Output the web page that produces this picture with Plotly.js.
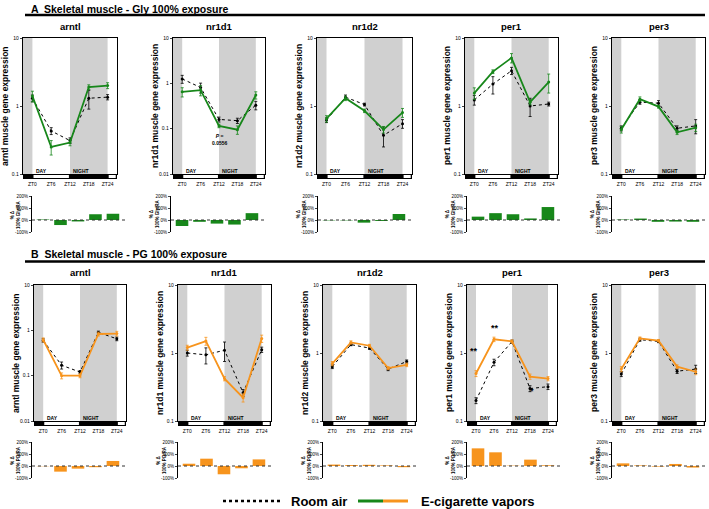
<!DOCTYPE html>
<html><head><meta charset="utf-8">
<script src="https://cdn.plot.ly/plotly-3.0.1.min.js"></script>
<style>body{margin:0;padding:0;background:#fff}#chart{width:709px;height:509px}</style>
</head><body><div id="chart"></div>
<script>
const W = 709, H = 509;
const ZT = [0, 6, 12, 18, 24];
const ztLabels = ['ZT0', 'ZT6', 'ZT12', 'ZT18', 'ZT24'];
const barIdx = [0, 1, 2, 3, 4];
const genes = ['arntl', 'nr1d1', 'nr1d2', 'per1', 'per3'];

// ---- A: Gly 100% exposure (room air vs e-cig vapors) ----
const glyArntlAir = [1.3, 0.43, 0.31, 1.3, 1.35];
const glyArntlAirErr = [0.15, 0.05, 0.03, 0.4, 0.12];
const glyArntlVap = [1.4, 0.25, 0.29, 1.9, 2.0];
const glyArntlVapErr = [0.25, 0.06, 0.03, 0.15, 0.2];
const glyArntlPct = [4, -42, -12, 48, 52];

const glyNr1d1Air = [1.25, 0.81, 0.16, 0.15, 0.33];
const glyNr1d1AirErr = [0.25, 0.2, 0.02, 0.02, 0.07];
const glyNr1d1Vap = [0.65, 0.71, 0.115, 0.095, 0.55];
const glyNr1d1VapErr = [0.15, 0.18, 0.01, 0.02, 0.1];
const glyNr1d1Pct = [-50, -15, -30, -38, 57];

const glyNr1d2Air = [0.62, 1.35, 1.05, 0.37, 0.55];
const glyNr1d2AirErr = [0.05, 0.1, 0.05, 0.12, 0.08];
const glyNr1d2Vap = [0.65, 1.3, 0.85, 0.45, 0.8];
const glyNr1d2VapErr = [0.07, 0.1, 0.05, 0.05, 0.12];
const glyNr1d2Pct = [-3, -3, -22, -8, 50];

const glyPer1Air = [1.23, 2.1, 3.3, 1.0, 1.07];
const glyPer1AirErr = [0.2, 0.6, 0.4, 0.3, 0.07];
const glyPer1Vap = [1.55, 3.2, 5.1, 1.14, 2.25];
const glyPer1VapErr = [0.3, 0.2, 0.8, 0.1, 0.7];
const glyPer1Pct = [28, 57, 48, 13, 108];

const glyPer3Air = [0.47, 1.14, 1.1, 0.47, 0.51];
const glyPer3AirErr = [0.04, 0.08, 0.1, 0.04, 0.12];
const glyPer3Vap = [0.45, 1.26, 0.98, 0.41, 0.48];
const glyPer3VapErr = [0.05, 0.1, 0.05, 0.03, 0.06];
const glyPer3Pct = [4, 12, -15, -13, -15];

// ---- B: PG 100% exposure ----
const pgArntlAir = [0.6, 0.17, 0.12, 0.9, 0.65];
const pgArntlAirErr = [0.05, 0.03, 0.01, 0.06, 0.06];
const pgArntlVap = [0.62, 0.1, 0.1, 0.83, 0.85];
const pgArntlVapErr = [0.06, 0.015, 0.01, 0.08, 0.1];
const pgArntlPct = [-2, -47, -22, -10, 42];

const pgNr1d1Air = [1.0, 0.94, 1.1, 0.26, 1.12];
const pgNr1d1AirErr = [0.1, 0.25, 0.35, 0.03, 0.1];
const pgNr1d1Vap = [1.2, 1.5, 0.42, 0.22, 1.63];
const pgNr1d1VapErr = [0.1, 0.2, 0.03, 0.03, 0.2];
const pgNr1d1Pct = [19, 61, -69, -19, 55];

const pgNr1d2Air = [0.63, 1.33, 1.18, 0.58, 0.75];
const pgNr1d2AirErr = [0.04, 0.05, 0.05, 0.03, 0.04];
const pgNr1d2Vap = [0.7, 1.43, 1.28, 0.6, 0.67];
const pgNr1d2VapErr = [0.05, 0.08, 0.06, 0.03, 0.04];
const pgNr1d2Pct = [12, 8, 10, 5, -10];

const pgPer1Air = [0.2, 0.73, 1.47, 0.3, 0.32];
const pgPer1AirErr = [0.02, 0.08, 0.08, 0.03, 0.03];
const pgPer1Vap = [0.5, 1.59, 1.48, 0.45, 0.42];
const pgPer1VapErr = [0.05, 0.12, 0.08, 0.04, 0.03];
const pgPer1Pct = [147, 114, 3, 53, 6];

const pgPer3Air = [0.49, 1.57, 1.48, 0.54, 0.58];
const pgPer3AirErr = [0.04, 0.08, 0.06, 0.04, 0.08];
const pgPer3Vap = [0.58, 1.64, 1.52, 0.63, 0.53];
const pgPer3VapErr = [0.05, 0.08, 0.06, 0.04, 0.05];
const pgPer3Pct = [22, 5, -5, 17, -13];

const yMinA = [0.1, 0.01, 0.1, 0.1, 0.1];
const yMinB = [0.01, 0.1, 0.1, 0.1, 0.1];

const rows = [
  {
    letter: 'A', title: 'Skeletal muscle - Gly 100% exposure', pctLabel: '100% Gly/RA',
    color: '#17871a',
    air: [glyArntlAir, glyNr1d1Air, glyNr1d2Air, glyPer1Air, glyPer3Air],
    airErr: [glyArntlAirErr, glyNr1d1AirErr, glyNr1d2AirErr, glyPer1AirErr, glyPer3AirErr],
    vap: [glyArntlVap, glyNr1d1Vap, glyNr1d2Vap, glyPer1Vap, glyPer3Vap],
    vapErr: [glyArntlVapErr, glyNr1d1VapErr, glyNr1d2VapErr, glyPer1VapErr, glyPer3VapErr],
    pct: [glyArntlPct, glyNr1d1Pct, glyNr1d2Pct, glyPer1Pct, glyPer3Pct],
    yMin: yMinA,
    geo: {titleY: 8.5, ruleY: 15, geneY: 26, lefts: [23, 173, 317, 465, 612], rights: [117, 265, 412, 558, 705],
          top: 38, bottom: 174, sLefts: [32, 171, 318, 467, 612], sTop: 196, sBottom: 232}
  },
  {
    letter: 'B', title: 'Skeletal muscle - PG 100% exposure', pctLabel: '100% PG/RA',
    color: '#f7941d',
    air: [pgArntlAir, pgNr1d1Air, pgNr1d2Air, pgPer1Air, pgPer3Air],
    airErr: [pgArntlAirErr, pgNr1d1AirErr, pgNr1d2AirErr, pgPer1AirErr, pgPer3AirErr],
    vap: [pgArntlVap, pgNr1d1Vap, pgNr1d2Vap, pgPer1Vap, pgPer3Vap],
    vapErr: [pgArntlVapErr, pgNr1d1VapErr, pgNr1d2VapErr, pgPer1VapErr, pgPer3VapErr],
    pct: [pgArntlPct, pgNr1d1Pct, pgNr1d2Pct, pgPer1Pct, pgPer3Pct],
    yMin: yMinB,
    geo: {titleY: 253.5, ruleY: 261.5, geneY: 272, lefts: [34, 178, 323, 467, 612], rights: [126, 271, 416, 557, 705],
          top: 285, bottom: 421, sLefts: [32, 178, 323, 467, 612], sTop: 442, sBottom: 478}
  }
];

const px = v => v / W;
const py = v => 1 - v / H;
const FONT = 'Liberation Sans, Arial, Helvetica, sans-serif';

const traces = [], shapes = [], annotations = [];
const layout = {
  width: W, height: H, margin: {l: 0, r: 0, t: 0, b: 0}, showlegend: false,
  paper_bgcolor: '#fff', plot_bgcolor: 'rgba(0,0,0,0)',
  font: {family: FONT, color: '#000', size: 6}
};

rows.forEach((row, r) => {
  const g = row.geo;
  annotations.push({xref: 'paper', yref: 'paper', x: px(29), y: py(g.titleY), xanchor: 'left', yanchor: 'middle',
    text: '<b>' + row.letter + '  ' + row.title + '</b>', showarrow: false, font: {size: 10.5, family: FONT}});
  shapes.push({type: 'line', xref: 'paper', yref: 'paper', x0: px(25), x1: px(705), y0: py(g.ruleY), y1: py(g.ruleY),
    line: {color: '#000', width: 2.5}});

  genes.forEach((gene, i) => {
    const n = r * 5 + i + 1, m = 10 + n;
    const xa = 'x' + n, ya = 'y' + n;
    const L = g.lefts[i], R = g.rights[i];
    const yMin = row.yMin[i];
    const tv = yMin < 0.05 ? [0.01, 0.1, 1, 10] : [0.1, 1, 10];
    layout['xaxis' + n] = {domain: [px(L), px(R)], anchor: ya, range: [-3, 27], tickvals: ZT, ticktext: ztLabels,
      ticks: 'outside', ticklen: 5, tickcolor: 'rgba(0,0,0,0)', tickfont: {size: 5}, showline: true, mirror: true,
      linecolor: '#000', linewidth: 1, showgrid: false, zeroline: false, fixedrange: true};
    layout['yaxis' + n] = {domain: [py(g.bottom), py(g.top)], anchor: xa, type: 'log', range: [Math.log10(yMin), 1],
      tickvals: tv, ticktext: tv.map(String), ticks: 'outside', ticklen: 2, tickfont: {size: 5}, showline: true,
      mirror: true, linecolor: '#000', linewidth: 1.2, showgrid: false, zeroline: false, fixedrange: true};

    // light/dark shading
    [[-3, 0], [12, 24]].forEach(([a, b]) => shapes.push({type: 'rect', xref: xa, yref: ya + ' domain', x0: a, x1: b,
      y0: 0, y1: 1, fillcolor: '#d0d0d0', line: {width: 0}, layer: 'below'}));
    // day/night bar
    shapes.push({type: 'rect', xref: xa, yref: 'paper', x0: -3, x1: 27, y0: py(g.bottom + 5), y1: py(g.bottom),
      fillcolor: '#000', line: {width: 0}});
    [[0.35, 11.65], [24.35, 26.6]].forEach(([a, b]) => shapes.push({type: 'rect', xref: xa, yref: 'paper', x0: a, x1: b,
      y0: py(g.bottom + 4), y1: py(g.bottom + 1), fillcolor: '#fff', line: {width: 0}}));
    annotations.push({xref: xa, yref: 'paper', x: 0.6, y: py(g.bottom - 3.5), xanchor: 'left', yanchor: 'middle',
      text: '<b>DAY</b>', showarrow: false, font: {size: 5}});
    annotations.push({xref: xa, yref: 'paper', x: 12.4, y: py(g.bottom - 3.5), xanchor: 'left', yanchor: 'middle',
      text: '<b>NIGHT</b>', showarrow: false, font: {size: 5}});

    // titles
    annotations.push({xref: 'paper', yref: 'paper', x: px((L + R) / 2), y: py(g.geneY), xanchor: 'center', yanchor: 'middle',
      text: '<b>' + gene + '</b>', showarrow: false, font: {size: 9.5}});
    annotations.push({xref: 'paper', yref: 'paper', x: px(L - 18), y: py((g.top + g.bottom) / 2), xanchor: 'center',
      yanchor: 'middle', textangle: -90, text: '<b>' + gene + ' muscle gene expression</b>', showarrow: false,
      font: {size: 8.5}});

    traces.push({type: 'scatter', mode: 'lines+markers', x: ZT, y: row.air[i], xaxis: xa, yaxis: ya,
      line: {color: '#000', width: 1, dash: 'dot'}, marker: {color: '#000', size: 3},
      error_y: {type: 'data', array: row.airErr[i], color: '#000', thickness: 0.8, width: 1.5}, hoverinfo: 'skip'});
    traces.push({type: 'scatter', mode: 'lines+markers', x: ZT, y: row.vap[i], xaxis: xa, yaxis: ya,
      line: {color: row.color, width: 1.8}, marker: {color: row.color, size: 3},
      error_y: {type: 'data', array: row.vapErr[i], color: row.color, thickness: 0.8, width: 1.5}, hoverinfo: 'skip'});

    // % difference bars
    const sL = g.sLefts[i];
    layout['xaxis' + m] = {domain: [px(sL), px(sL + 93)], anchor: 'y' + m, range: [-0.63, 4.69], visible: false,
      fixedrange: true};
    layout['yaxis' + m] = {domain: [py(g.sBottom), py(g.sTop)], anchor: 'x' + m, range: [-100, 200],
      tickvals: [-100, 0, 100, 200], ticktext: ['-100%', '0%', '100%', '200%'], ticks: 'outside', ticklen: 2,
      tickfont: {size: 4.5}, showline: true, linecolor: '#000', linewidth: 1, showgrid: false, zeroline: false,
      fixedrange: true};
    traces.push({type: 'bar', x: barIdx, y: row.pct[i], xaxis: 'x' + m, yaxis: 'y' + m, width: 0.72,
      marker: {color: row.color, line: {width: 0}}, hoverinfo: 'skip'});
    shapes.push({type: 'line', xref: 'x' + m + ' domain', yref: 'y' + m, x0: 0, x1: 1, y0: 0, y1: 0,
      line: {color: '#333', width: 1, dash: 'dot'}});
    annotations.push({xref: 'paper', yref: 'paper', x: px(sL - 17), y: py((g.sTop + g.sBottom) / 2), xanchor: 'center',
      yanchor: 'middle', textangle: -90, text: '<b>% Δ<br>' + row.pctLabel + '</b>', showarrow: false,
      font: {size: 4.5}});
  });
});

// significance annotations
annotations.push({xref: 'x2', yref: 'paper', x: 12.3, y: py(139), xanchor: 'center', yanchor: 'middle',
  text: '<b><i>P</i> =<br>0.0556</b>', showarrow: false, font: {size: 5}});
annotations.push({xref: 'x9', yref: 'paper', x: -0.8, y: py(358), text: '<b>**</b>', showarrow: false, font: {size: 9}});
annotations.push({xref: 'x9', yref: 'paper', x: 6.2, y: py(328), text: '<b>**</b>', showarrow: false, font: {size: 9}});
annotations.push({xref: 'x9', yref: 'paper', x: 18.5, y: py(398), text: '<b>*</b>', showarrow: false, font: {size: 9}});

// legend
const legY = 501;
shapes.push({type: 'line', xref: 'paper', yref: 'paper', x0: px(223), x1: px(280), y0: py(legY), y1: py(legY),
  line: {color: '#000', width: 2.5, dash: 'dot'}});
shapes.push({type: 'line', xref: 'paper', yref: 'paper', x0: px(358), x1: px(383), y0: py(legY), y1: py(legY),
  line: {color: '#17871a', width: 3}});
shapes.push({type: 'line', xref: 'paper', yref: 'paper', x0: px(383), x1: px(408), y0: py(legY), y1: py(legY),
  line: {color: '#f7941d', width: 3}});
annotations.push({xref: 'paper', yref: 'paper', x: px(289), y: py(legY), xanchor: 'left', yanchor: 'middle',
  text: '<b>Room air</b>', showarrow: false, font: {size: 13}});
annotations.push({xref: 'paper', yref: 'paper', x: px(419), y: py(legY), xanchor: 'left', yanchor: 'middle',
  text: '<b>E-cigarette vapors</b>', showarrow: false, font: {size: 13}});

layout.shapes = shapes;
layout.annotations = annotations;
Plotly.newPlot('chart', traces, layout, {staticPlot: true, displayModeBar: false});
</script></body></html>
